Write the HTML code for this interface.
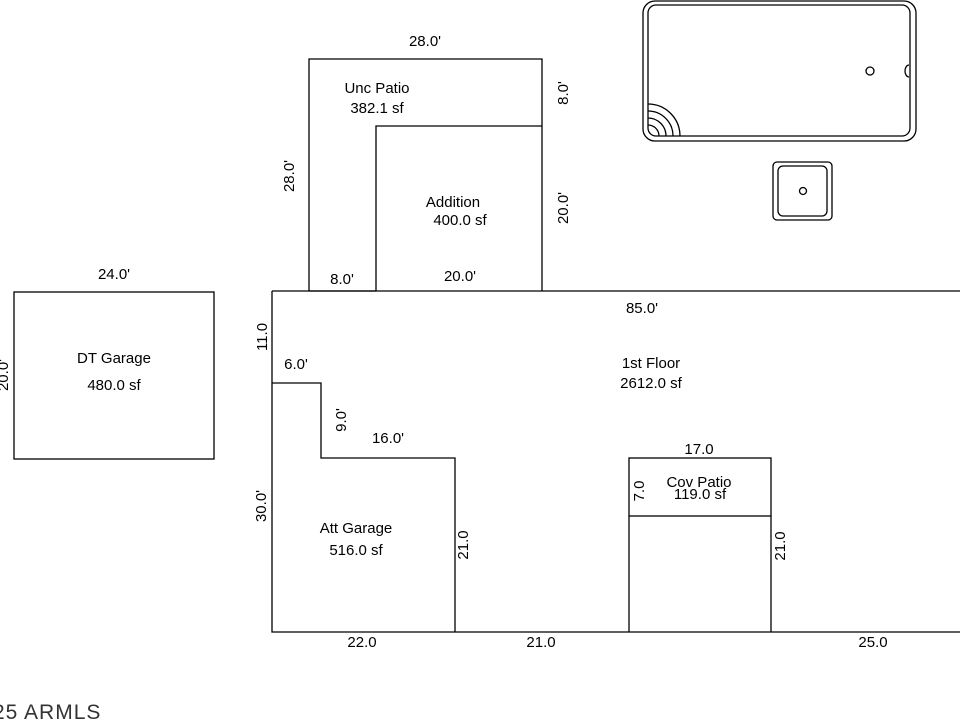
<!DOCTYPE html>
<html><head><meta charset="utf-8"><style>
html,body{margin:0;padding:0;background:#fff;width:960px;height:720px;overflow:hidden}
svg text{font-family:"Liberation Sans",Arial,sans-serif;font-size:15px;fill:#000}
</style></head><body>
<svg width="960" height="720" viewBox="0 0 960 720" xmlns="http://www.w3.org/2000/svg">
<g fill="none" stroke="#000" stroke-width="1.3">
<polyline points="309,291 309,59 542,59 542,291"/>
<polyline points="376,291 376,126 542,126"/>
<line x1="309" y1="291" x2="376" y2="291"/>
<line x1="272" y1="291" x2="960" y2="291"/>
<polyline points="272,291 272,632 960,632"/>
<polyline points="272,383 321,383 321,458 455,458 455,632"/>
<rect x="629" y="458" width="142" height="58"/>
<line x1="629" y1="516" x2="629" y2="632"/>
<line x1="771" y1="516" x2="771" y2="632"/>
<rect x="14" y="292" width="200" height="167"/>
<rect x="643" y="1" width="273" height="140" rx="12"/>
<rect x="648" y="5" width="262" height="131" rx="8"/>
<circle cx="870" cy="71" r="4"/>
<path d="M909,65 A4,6 0 0 0 909,77"/>
<path d="M648,104 A32,32 0 0 1 680,136"/>
<path d="M648,111 A25,25 0 0 1 673,136"/>
<path d="M648,118 A18,18 0 0 1 666,136"/>
<path d="M648,125 A11,11 0 0 1 659,136"/>
<rect x="773" y="162" width="59" height="58" rx="4"/>
<rect x="778" y="166" width="49" height="50" rx="5"/>
<circle cx="803" cy="191" r="3.5"/>
</g>
<text x="425" y="46" text-anchor="middle">28.0'</text>
<text x="377" y="93" text-anchor="middle">Unc Patio</text>
<text x="377" y="113" text-anchor="middle">382.1 sf</text>
<text x="453" y="207" text-anchor="middle">Addition</text>
<text x="460" y="225" text-anchor="middle">400.0 sf</text>
<text x="342" y="284" text-anchor="middle">8.0'</text>
<text x="460" y="281" text-anchor="middle">20.0'</text>
<text transform="translate(568,93) rotate(-90)" text-anchor="middle">8.0'</text>
<text transform="translate(568,208) rotate(-90)" text-anchor="middle">20.0'</text>
<text transform="translate(294,176) rotate(-90)" text-anchor="middle">28.0'</text>
<text x="114" y="279" text-anchor="middle">24.0'</text>
<text x="114" y="363" text-anchor="middle">DT Garage</text>
<text x="114" y="390" text-anchor="middle">480.0 sf</text>
<text transform="translate(8,375) rotate(-90)" text-anchor="middle">20.0'</text>
<text x="642" y="313" text-anchor="middle">85.0'</text>
<text x="651" y="368" text-anchor="middle">1st Floor</text>
<text x="651" y="388" text-anchor="middle">2612.0 sf</text>
<text transform="translate(267,337) rotate(-90)" text-anchor="middle">11.0</text>
<text x="296" y="369" text-anchor="middle">6.0'</text>
<text transform="translate(346,420) rotate(-90)" text-anchor="middle">9.0'</text>
<text x="388" y="443" text-anchor="middle">16.0'</text>
<text transform="translate(266,506) rotate(-90)" text-anchor="middle">30.0'</text>
<text x="356" y="533" text-anchor="middle">Att Garage</text>
<text x="356" y="555" text-anchor="middle">516.0 sf</text>
<text transform="translate(468,545) rotate(-90)" text-anchor="middle">21.0</text>
<text x="699" y="454" text-anchor="middle">17.0</text>
<text x="699" y="487" text-anchor="middle">Cov Patio</text>
<text x="700" y="499" text-anchor="middle">119.0 sf</text>
<text transform="translate(644,491) rotate(-90)" text-anchor="middle">7.0</text>
<text transform="translate(785,546) rotate(-90)" text-anchor="middle">21.0</text>
<text x="362" y="647" text-anchor="middle">22.0</text>
<text x="541" y="647" text-anchor="middle">21.0</text>
<text x="873" y="647" text-anchor="middle">25.0</text>
<text x="-7" y="719" style="font-size:21px;fill:#333;letter-spacing:1px">25 ARMLS</text>
</svg>
</body></html>
